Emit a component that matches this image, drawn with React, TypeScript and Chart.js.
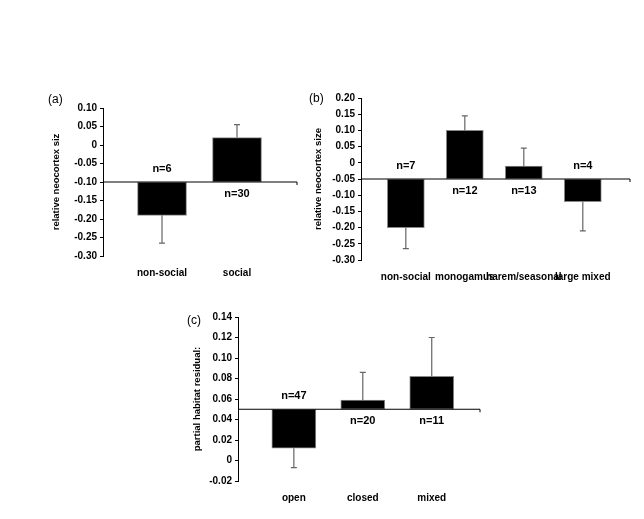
import React, { useEffect, useRef } from "react";
import { Chart, registerables } from "chart.js";
Chart.register(...registerables);

const catsA = ["non-social", "social"];
const valsA = [-0.19, 0.02];
const errA = [-0.265, 0.055];
const nA = ["n=6", "n=30"];

const catsB = ["non-social", "monogamus", "harem/seasonal", "large mixed"];
const valsB = [-0.2, 0.1, -0.01, -0.12];
const errB = [-0.265, 0.145, 0.045, -0.21];
const nB = ["n=7", "n=12", "n=13", "n=4"];

const catsC = ["open", "closed", "mixed"];
const valsC = [0.012, 0.059, 0.082];
const errC = [-0.007, 0.086, 0.12];
const nC = ["n=47", "n=20", "n=11"];

const FONT = "'Liberation Sans', Arial, sans-serif";

type P = {
  axisX: number; topY: number; bottomY: number; rightX: number;
  min: number; max: number; step: number; base: number;
  xmin: number; xmax: number; barW: number;
  cats: string[]; vals: number[]; errs: number[]; ns: string[];
  ytitle: string; tag: string; tagX: number; tagY: number; titleX: number;
};

function Panel(p: P) {
  const ref = useRef<HTMLCanvasElement>(null);
  useEffect(() => {
    const YW = 42, XH = 22;
    const plugin = {
      id: "extras",
      afterDatasetsDraw(chart: any) {
        const ctx = chart.ctx;
        const y = chart.scales.y, x = chart.scales.x;
        const ca = chart.chartArea;
        const by = y.getPixelForValue(p.base);
        ctx.save();
        ctx.strokeStyle = "#666";
        ctx.lineWidth = 1.2;
        p.vals.forEach((v, i) => {
          const cx = x.getPixelForValue(i);
          const y1 = y.getPixelForValue(v), y2 = y.getPixelForValue(p.errs[i]);
          ctx.beginPath();
          ctx.moveTo(cx, y1); ctx.lineTo(cx, y2);
          ctx.moveTo(cx - 3, y2); ctx.lineTo(cx + 3, y2);
          ctx.stroke();
        });
        ctx.strokeStyle = "#000";
        ctx.lineWidth = 1;
        ctx.beginPath();
        ctx.moveTo(ca.left, by); ctx.lineTo(ca.right, by);
        ctx.moveTo(ca.right, by); ctx.lineTo(ca.right, by + 3);
        ctx.stroke();
        ctx.fillStyle = "#000";
        ctx.font = `bold 11px ${FONT}`;
        ctx.textAlign = "center";
        ctx.textBaseline = "middle";
        p.vals.forEach((v, i) => {
          const cx = x.getPixelForValue(i);
          ctx.fillText(p.ns[i], cx, v < p.base ? by - 13 : by + 12);
        });
        ctx.font = `12px ${FONT}`;
        ctx.textAlign = "left";
        ctx.fillText(p.tag, p.tagX, p.tagY);
        ctx.font = `bold 9.5px ${FONT}`;
        ctx.translate(p.titleX, (ca.top + ca.bottom) / 2);
        ctx.rotate(-Math.PI / 2);
        ctx.textAlign = "center";
        ctx.fillText(p.ytitle, 0, 0);
        ctx.restore();
      },
    };
    const chart = new Chart(ref.current!, {
      type: "bar",
      data: {
        datasets: [{
          data: p.vals.map((v, i) => ({ x: i, y: [p.base, v] })) as any,
          backgroundColor: "#000",
          borderColor: "#888",
          borderWidth: 1,
          borderSkipped: false,
          barThickness: p.barW,
        }],
      },
      options: {
        responsive: false,
        animation: false,
        devicePixelRatio: 1,
        layout: {
          padding: { left: p.axisX - YW, top: p.topY, right: 644 - p.rightX, bottom: 519 - p.bottomY - XH },
        },
        plugins: { legend: { display: false }, tooltip: { enabled: false } },
        scales: {
          x: {
            type: "linear",
            min: p.xmin, max: p.xmax, offset: false,
            afterFit: (s: any) => { s.height = XH; },
            afterBuildTicks: (s: any) => { s.ticks = p.cats.map((_, i) => ({ value: i })); },
            grid: { display: false },
            border: { display: false },
            ticks: {
              color: "#000", font: { family: FONT, size: 10, weight: "bold" }, padding: 3, maxRotation: 0, autoSkip: false,
              callback: (v: any) => p.cats[Math.round(v)] ?? "",
            },
          },
          y: {
            min: p.min, max: p.max,
            afterFit: (s: any) => { s.width = YW; },
            afterBuildTicks: (s: any) => {
              const t = [];
              const n = Math.round((p.max - p.min) / p.step);
              for (let i = 0; i <= n; i++) t.push({ value: +(p.min + i * p.step).toFixed(4) });
              s.ticks = t;
            },
            grid: { drawOnChartArea: false, tickLength: 3, color: "#000" },
            border: { color: "#000" },
            ticks: {
              color: "#000", padding: 3,
              font: { family: FONT, size: 10, weight: "bold" },
              callback: (v: any) => (Math.abs(v) < 1e-9 ? "0" : Number(v).toFixed(2)),
            },
          },
        },
      } as any,
      plugins: [plugin],
    });
    return () => chart.destroy();
  }, []);
  return <canvas ref={ref} width={644} height={519} style={{ position: "absolute", left: 0, top: 0 }} />;
}

export default function App() {
  return (
    <div style={{ position: "fixed", left: 0, top: 0, width: 644, height: 519, background: "#fff" }}>
      <Panel axisX={103} topY={108} bottomY={256} rightX={297} min={-0.3} max={0.1} step={0.05} base={-0.1}
        xmin={-0.787} xmax={1.8} barW={49}
        cats={catsA} vals={valsA} errs={errA} ns={nA} ytitle="relative neocortex siz" tag="(a)" tagX={48} tagY={100} titleX={56} />
      <Panel axisX={361} topY={98} bottomY={260} rightX={630} min={-0.3} max={0.2} step={0.05} base={-0.05}
        xmin={-0.76} xmax={3.8} barW={37}
        cats={catsB} vals={valsB} errs={errB} ns={nB} ytitle="relative neocortex size" tag="(b)" tagX={309} tagY={99} titleX={318} />
      <Panel axisX={238} topY={317} bottomY={481} rightX={480} min={-0.02} max={0.14} step={0.02} base={0.05}
        xmin={-0.81} xmax={2.7} barW={44}
        cats={catsC} vals={valsC} errs={errC} ns={nC} ytitle="partial habitat residual:" tag="(c)" tagX={187} tagY={321} titleX={197} />
    </div>
  );
}
